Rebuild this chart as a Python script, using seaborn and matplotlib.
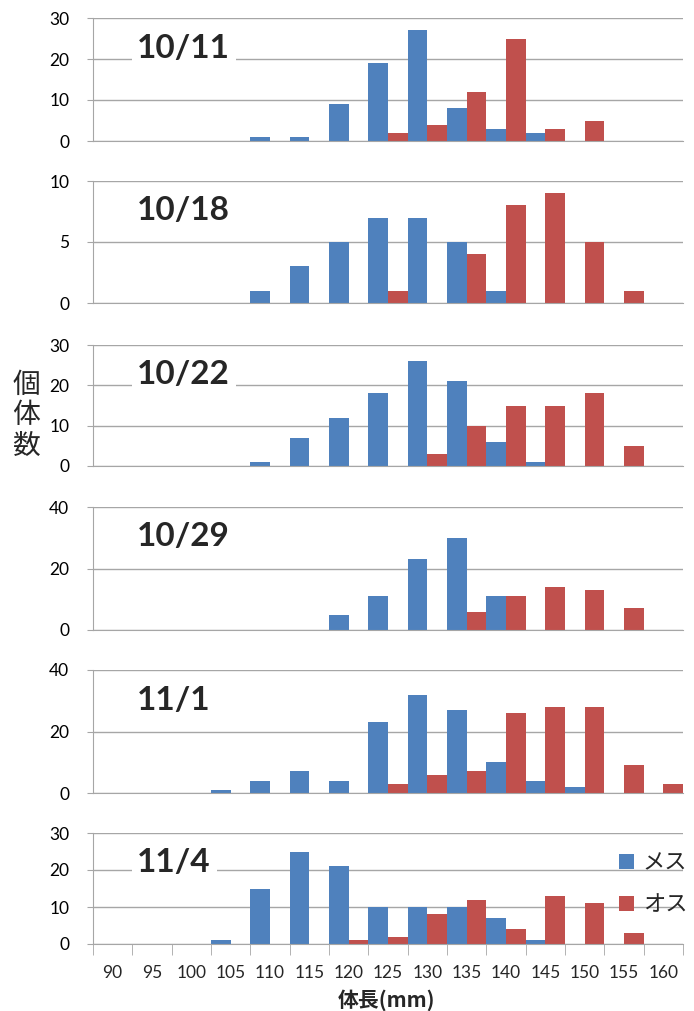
import numpy as np
import pandas as pd
import matplotlib
matplotlib.use('Agg')
import matplotlib.pyplot as plt
import seaborn as sns

# body length classes (mm)
lengths = ['90', '95', '100', '105', '110', '115', '120', '125',
           '130', '135', '140', '145', '150', '155', '160']
dates = ['10/11', '10/18', '10/22', '10/29', '11/1', '11/4']

# counts per length class, female (メス) / male (オス)
f_1011 = [0, 0, 0, 0, 1, 1, 9, 19, 27, 8, 3, 2, 0, 0, 0]
m_1011 = [0, 0, 0, 0, 0, 0, 0, 2, 4, 12, 25, 3, 5, 0, 0]
f_1018 = [0, 0, 0, 0, 1, 3, 5, 7, 7, 5, 1, 0, 0, 0, 0]
m_1018 = [0, 0, 0, 0, 0, 0, 0, 1, 0, 4, 8, 9, 5, 1, 0]
f_1022 = [0, 0, 0, 0, 1, 7, 12, 18, 26, 21, 6, 1, 0, 0, 0]
m_1022 = [0, 0, 0, 0, 0, 0, 0, 0, 3, 10, 15, 15, 18, 5, 0]
f_1029 = [0, 0, 0, 0, 0, 0, 5, 11, 23, 30, 11, 0, 0, 0, 0]
m_1029 = [0, 0, 0, 0, 0, 0, 0, 0, 0, 6, 11, 14, 13, 7, 0]
f_1101 = [0, 0, 0, 1, 4, 7, 4, 23, 32, 27, 10, 4, 2, 0, 0]
m_1101 = [0, 0, 0, 0, 0, 0, 0, 3, 6, 7, 26, 28, 28, 9, 3]
f_1104 = [0, 0, 0, 1, 15, 25, 21, 10, 10, 10, 7, 1, 0, 0, 0]
m_1104 = [0, 0, 0, 0, 0, 0, 1, 2, 8, 12, 4, 13, 11, 3, 0]

females = [f_1011, f_1018, f_1022, f_1029, f_1101, f_1104]
males = [m_1011, m_1018, m_1022, m_1029, m_1101, m_1104]
y_max = [30, 10, 30, 40, 40, 30]
y_step = [10, 5, 10, 20, 20, 10]
sexes = ['メス', 'オス']

sns.set_style('white')
plt.rcParams['font.family'] = ['Lato', 'Noto Sans CJK JP', 'DejaVu Sans']

W, H = 694, 1011
fig = plt.figure(figsize=(W / 100, H / 100), dpi=100)

# panel pixel extents (top, bottom) measured from the top of the figure
panels = [(18, 141), (181, 303), (345, 466), (507, 630), (670, 793), (833, 944)]
x0, x1 = 93, 683
grey = '#A6A6A6'

for i, (top, bot) in enumerate(panels):
    ax = fig.add_axes([x0 / W, 1 - bot / H, (x1 - x0) / W, (bot - top) / H])
    df = pd.DataFrame({
        'length': lengths * 2,
        'count': females[i] + males[i],
        'sex': [sexes[0]] * len(lengths) + [sexes[1]] * len(lengths),
    })
    sns.barplot(data=df, x='length', y='count', hue='sex', hue_order=sexes,
                order=lengths, palette=['#4F81BD', '#C0504D'], saturation=1,
                width=1.0, gap=0, errorbar=None, linewidth=0,
                legend=(i == len(panels) - 1), ax=ax)
    ax.set_xlim(-0.5, len(lengths) - 0.5)
    ax.set_ylim(0, y_max[i])
    ax.set_yticks(np.arange(0, y_max[i] + 1, y_step[i]))
    ax.yaxis.grid(True, color=grey, lw=1)
    ax.set_axisbelow(True)
    for s in ['top', 'right']:
        ax.spines[s].set_visible(False)
    ax.spines['left'].set_color(grey)
    ax.spines['bottom'].set_color(grey)
    ax.tick_params(axis='y', left=True, length=4, color=grey, pad=13,
                   labelsize=12.5, labelcolor='black')
    ax.set_xlabel('')
    ax.set_ylabel('')

    if i == len(panels) - 1:
        ax.set_xticks(np.arange(-0.5, len(lengths), 1), minor=True)
        ax.tick_params(axis='x', which='minor', bottom=True, length=8,
                       color=grey)
        ax.tick_params(axis='x', which='major', bottom=False, length=0,
                       pad=15, labelsize=12.5)
        sns.move_legend(ax, loc='upper left', bbox_to_anchor=(0.891, 0.835),
                        frameon=False, title=None, borderpad=0,
                        borderaxespad=0,
                        prop={'family': 'Noto Sans CJK JP', 'size': 16},
                        handlelength=0.68, handleheight=0.68,
                        handletextpad=0.4, labelspacing=0.85)
    else:
        ax.set_xticks([])

    ax.annotate(dates[i], xy=(0.075, 1), xycoords='axes fraction',
                xytext=(0, -30), textcoords='offset pixels',
                ha='left', va='center', fontsize=24, fontweight='bold',
                bbox=dict(facecolor='white', edgecolor='none', pad=4))

fig.text(26 / W, 1 - 415 / H, '個\n体\n数', ha='center', va='center',
         fontsize=20, family='Noto Sans CJK JP', linespacing=1.02)
fig.text(387 / W, 1 - 1000 / H, '体長(mm)', ha='center', va='center',
         fontsize=15, fontweight='bold', family='Noto Sans CJK JP')

plt.savefig('out.png', dpi=100)
plt.close()
